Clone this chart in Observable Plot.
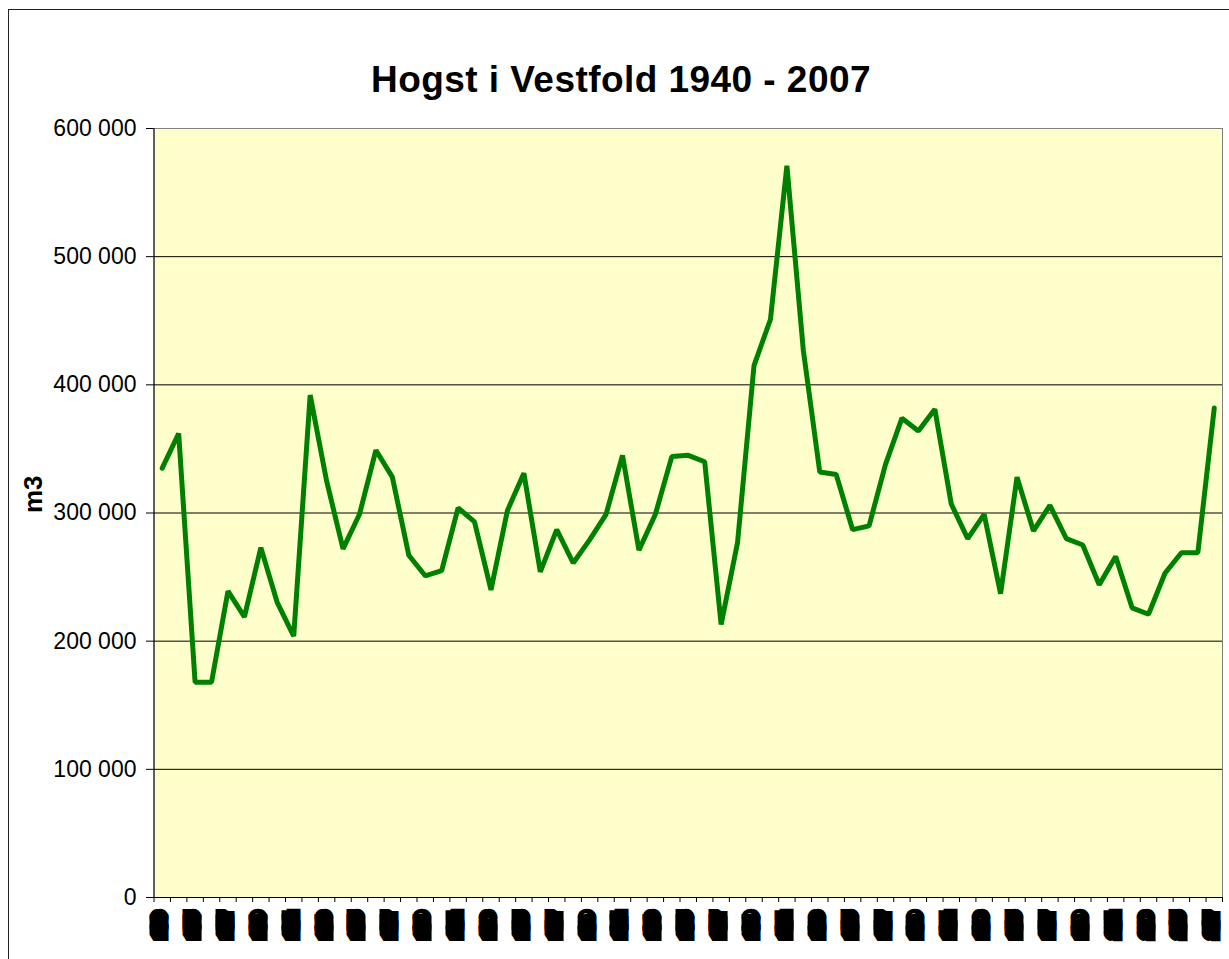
<!DOCTYPE html>
<html>
<head>
<meta charset="utf-8">
<script src="https://cdn.jsdelivr.net/npm/d3@7"></script>
<script src="https://cdn.jsdelivr.net/npm/@observablehq/plot@0.6"></script>
<style>
  html, body { margin: 0; padding: 0; background: #fff; overflow: hidden; }
  #wrap { position: relative; width: 1229px; height: 959px; }
  #border { position: absolute; left: 7.5px; top: 8.5px; width: 1300px; height: 1000px;
            border-left: 1.5px solid #222; border-top: 1.5px solid #222; pointer-events: none; }
  .title-mark text { letter-spacing: 0.45px; }
</style>
</head>
<body>
<div id="wrap"><div id="border"></div></div>
<script>
// ---- data ----
const title = "Hogst i Vestfold 1940 - 2007";
const yLabel = "m3";
const years = [1943,1944,1945,1946,1947,1948,1949,1950,1951,1952,
  1953,1954,1955,1956,1957,1958,1959,1960,1961,1962,
  1963,1964,1965,1966,1967,1968,1969,1970,1971,1972,
  1973,1974,1975,1976,1977,1978,1979,1980,1981,1982,
  1983,1984,1985,1986,1987,1988,1989,1990,1991,1992,
  1993,1994,1995,1996,1997,1998,1999,2000,2001,2002,
  2003,2004,2005,2006,2007];
const harvest = [335000,362000,168000,168000,239000,219000,273000,230000,204000,392000,
  325000,272000,299000,349000,328000,267000,251000,255000,304000,293000,
  240000,302000,331000,254000,287000,261000,279000,299000,345000,271000,
  299000,344000,345000,340000,213000,277000,415000,451000,571000,427000,
  332000,330000,287000,290000,338000,374000,364000,381000,307000,280000,
  299000,237000,328000,286000,306000,280000,275000,244000,266000,226000,
  221000,253000,269000,269000,382000];
const yTicks = [0,100000,200000,300000,400000,500000,600000];
const gridTicks = [100000,200000,300000,400000,500000];

// ---- build ----
const rows = years.map((yr, i) => ({i, year: yr, value: harvest[i]}));
const labelRows = rows.filter(d => d.i % 2 === 0);
const boundaries = d3.range(0, years.length + 1);
const fmt = d => d3.format(",")(d).replace(/,/g, " ");

const chart = Plot.plot({
  width: 1229,
  height: 959,
  marginLeft: 153.5,
  marginRight: 7,
  marginTop: 128,
  marginBottom: 62,
  style: {fontFamily: "'Liberation Sans', Arial, sans-serif", background: "transparent", color: "#000"},
  x: {domain: [0, years.length], axis: null},
  y: {domain: [0, 600000], axis: null},
  marks: [
    Plot.frame({fill: "#FFFFCC", stroke: "#808080"}),
    Plot.gridY(gridTicks, {stroke: "#000", strokeOpacity: 1, strokeWidth: 1}),
    Plot.ruleY([0], {stroke: "#000"}),
    Plot.ruleX([0], {stroke: "#000"}),
    Plot.axisY({ticks: yTicks, tickSize: 7.5, tickPadding: 10, tickFormat: fmt,
                fontSize: 23, label: null, stroke: "#000"}),
    Plot.axisX({ticks: boundaries, tickSize: 5, tickFormat: () => "", label: null, stroke: "#000"}),
    Plot.line(rows, {x: d => d.i + 0.5, y: "value", stroke: "#008000", strokeWidth: 5,
                     strokeLinejoin: "miter", strokeLinecap: "round"}),
    Plot.text(labelRows, {x: d => d.i + 0.5, frameAnchor: "bottom", text: d => String(d.year),
                          rotate: -90, textAnchor: "end", dy: 17.5, fontSize: 9, fontWeight: "bold",
                          fill: "#000", stroke: "#000", strokeWidth: 13,
                          strokeLinejoin: "miter", strokeMiterlimit: 1.5}),
    Plot.text([yLabel], {frameAnchor: "left", rotate: -90, dx: -120.8, fontSize: 26,
                         fontWeight: "bold", fill: "#000"}),
    Plot.text([title], {frameAnchor: "top", dx: -67.25, dy: -62.3, fontSize: 37,
                        fontWeight: "bold", fill: "#000", className: "title-mark"})
  ]
});
document.getElementById("wrap").prepend(chart);
chart.style.position = "absolute";
chart.style.left = "0";
chart.style.top = "0";
</script>
</body>
</html>
